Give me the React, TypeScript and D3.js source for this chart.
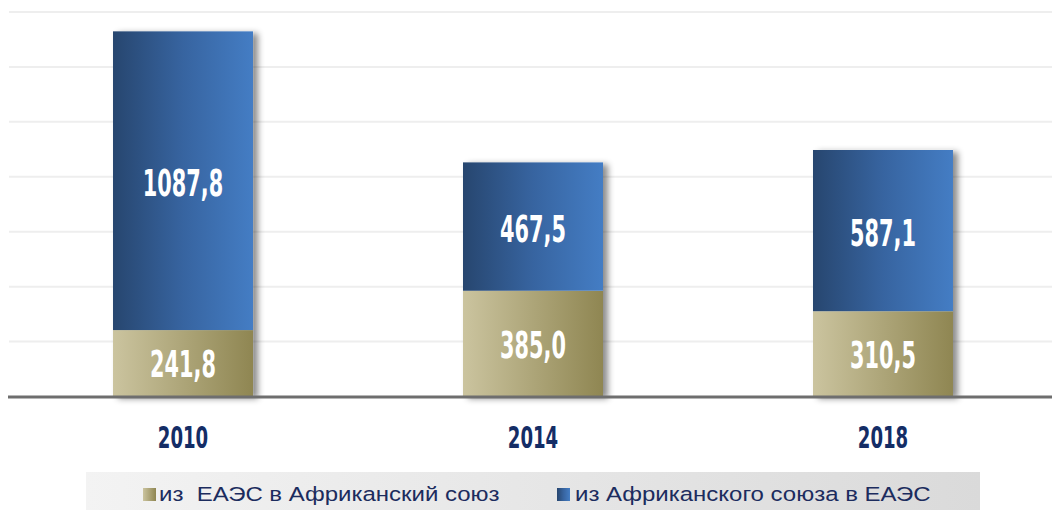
import React from 'react';
import * as d3 from 'd3';

const years = ['2010', '2014', '2018'];
const fromEaeu = [241.8, 385.0, 310.5];
const fromAu = [1087.8, 467.5, 587.1];
const legendLabels = ['из  ЕАЭС в Африканский союз', 'из Африканского союза в ЕАЭС'];
const gridTicks = [200, 400, 600, 800, 1000, 1200, 1400];

const W = 1052;
const H = 510;

const fmt = (v: number) => v.toFixed(1).replace('.', ',');

export default function App() {
  const x = d3.scaleBand<string>()
    .domain(years)
    .range([0, 1066])
    .paddingInner(0.6)
    .paddingOuter(0.3229);

  const y = d3.scaleLinear()
    .domain([0, 1400])
    .range([396.5, 12]);

  const labelFont = "'DejaVu Sans Condensed', 'DejaVu Sans', sans-serif";
  const legendFont = "'Liberation Sans', Arial, sans-serif";

  const stacked = years.map((yr, i) => ({
    year: yr,
    low: fromEaeu[i],
    high: fromAu[i],
  }));

  return (
    <svg width={W} height={H} style={{ position: 'absolute', left: 0, top: 0 }}>
      <defs>
        <linearGradient id="blueGrad" x1="0" x2="1" y1="0" y2="0">
          <stop offset="0%" stopColor="#27466f" />
          <stop offset="50%" stopColor="#3764a0" />
          <stop offset="100%" stopColor="#447dc4" />
        </linearGradient>
        <linearGradient id="goldGrad" x1="0" x2="1" y1="0" y2="0">
          <stop offset="0%" stopColor="#cbc49f" />
          <stop offset="100%" stopColor="#8f8652" />
        </linearGradient>
        <linearGradient id="legendBg" x1="0" x2="1" y1="0" y2="0">
          <stop offset="0%" stopColor="#f3f3f3" />
          <stop offset="100%" stopColor="#dadada" />
        </linearGradient>
        <filter id="shadow" x="-10%" y="-10%" width="130%" height="120%">
          <feDropShadow dx="5" dy="2" stdDeviation="3" floodColor="#000" floodOpacity="0.45" />
        </filter>
      </defs>

      <rect width={W} height={H} fill="#fff" />

      {/* grid */}
      {gridTicks.map(t => (
        <line key={t} x1={9} x2={W} y1={y(t)} y2={y(t)} stroke="#eeeeee" strokeWidth={2} />
      ))}

      {/* bars */}
      {stacked.map(d => {
        const bx = x(d.year)!;
        const bw = x.bandwidth();
        const y0 = y(0);
        const y1 = y(d.low);
        const y2 = y(d.low + d.high);
        return (
          <g key={d.year}>
            <rect x={bx} y={y2} width={bw} height={y0 - y2} fill="#fff" filter="url(#shadow)" />
            <rect x={bx} y={y1} width={bw} height={y0 - y1} fill="url(#goldGrad)" />
            <rect x={bx} y={y2} width={bw} height={y1 - y2} fill="url(#blueGrad)" />
            <text
              transform={`translate(${bx + bw / 2},${(y0 + y1) / 2 + 14}) scale(0.61,1)`}
              textAnchor="middle" fill="#fff" fontFamily={labelFont} fontWeight="bold" fontSize={38}
            >{fmt(d.low)}</text>
            <text
              transform={`translate(${bx + bw / 2},${(y1 + y2) / 2 + 15.5}) scale(0.61,1)`}
              textAnchor="middle" fill="#fff" fontFamily={labelFont} fontWeight="bold" fontSize={38}
            >{fmt(d.high)}</text>
          </g>
        );
      })}

      {/* baseline */}
      <line x1={8} x2={W} y1={y(0) + 0.5} y2={y(0) + 0.5} stroke="#6e6e6e" strokeWidth={3} />

      {/* year labels */}
      {years.map(yr => (
        <text key={yr}
          transform={`translate(${x(yr)! + x.bandwidth() / 2},448) scale(0.65,1)`}
          textAnchor="middle" fill="#142d66" fontFamily={labelFont} fontWeight="bold" fontSize={31}
        >{yr}</text>
      ))}

      {/* legend */}
      <rect x={86} y={472} width={894} height={38} fill="url(#legendBg)" />
      <rect x={143} y={488} width={13} height={13} fill="url(#goldGrad)" />
      <text transform="translate(159,501) scale(1.17,1)" fill="#1c2c5e" fontFamily={legendFont} fontSize={20.5}
        style={{ whiteSpace: 'pre' }}>{legendLabels[0]}</text>
      <rect x={557} y={488} width={13} height={13} fill="url(#blueGrad)" />
      <text transform="translate(575,501) scale(1.17,1)" fill="#1c2c5e" fontFamily={legendFont} fontSize={20.5}>
        {legendLabels[1]}</text>
    </svg>
  );
}
